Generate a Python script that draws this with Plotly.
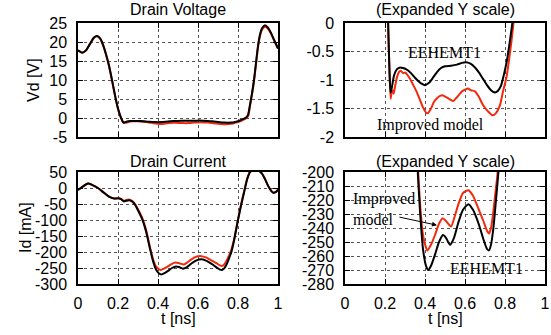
import plotly.graph_objects as go

# ---------------- data ----------------
t_vd_black = [0.00, 0.02, 0.04, 0.06, 0.08, 0.095, 0.11, 0.125, 0.14, 0.155, 0.17, 0.185, 0.20, 0.21, 0.218, 0.223,
              0.228, 0.235, 0.245, 0.26, 0.275, 0.29, 0.31, 0.33, 0.35, 0.37, 0.385, 0.40, 0.42, 0.44, 0.46, 0.48,
              0.50, 0.53, 0.56, 0.585, 0.605, 0.625, 0.65, 0.67, 0.69, 0.71, 0.73, 0.75, 0.765, 0.78, 0.795, 0.81,
              0.825, 0.84, 0.85, 0.86, 0.87, 0.88, 0.89, 0.90, 0.91, 0.92, 0.935, 0.95, 0.965, 0.98, 1.00]
vd_black = [17.8, 17.2, 17.8, 19.5, 21.2, 21.6, 21.0, 19.3, 16.8, 13.8, 10.0, 6.0, 2.5, 0.8, -0.3, -0.9,
            -1.22, -1.12, -0.92, -0.81, -0.78, -0.79, -0.82, -0.88, -0.96, -1.03, -1.07, -1.09, -1.05, -0.96, -0.86, -0.79,
            -0.76, -0.75, -0.73, -0.70, -0.69, -0.71, -0.78, -0.87, -0.98, -1.09, -1.18, -1.22, -1.19, -1.10, -0.90, -0.65,
            -0.30, 0.1, 0.8, 3.5, 6.5, 10.0, 14.5, 19.0, 22.0, 23.6, 24.4, 23.8, 22.4, 20.6, 18.3]

t_vd_red = [0.00, 0.02, 0.04, 0.06, 0.08, 0.095, 0.11, 0.125, 0.14, 0.155, 0.17, 0.185, 0.20, 0.21, 0.216, 0.222,
            0.228, 0.233, 0.238, 0.243, 0.25, 0.26, 0.27, 0.28, 0.29, 0.30, 0.31, 0.325, 0.34, 0.36, 0.375, 0.39,
            0.405, 0.415, 0.43, 0.445, 0.46, 0.475, 0.49, 0.505, 0.52, 0.54, 0.555, 0.57, 0.585, 0.60, 0.615, 0.63,
            0.65, 0.67, 0.69, 0.715, 0.738, 0.755, 0.775, 0.79, 0.808, 0.822, 0.833, 0.845, 0.852, 0.86, 0.87, 0.88,
            0.89, 0.90, 0.91, 0.92, 0.935, 0.95, 0.965, 0.98, 1.00]
vd_red = [17.8, 17.2, 17.8, 19.5, 21.1, 21.5, 20.9, 19.2, 16.7, 13.7, 9.9, 5.9, 2.4, 0.7, -0.1, -0.8,
          -1.33, -1.22, -1.18, -1.24, -1.12, -0.95, -0.86, -0.84, -0.88, -0.87, -0.90, -0.98, -1.08, -1.22, -1.35, -1.48,
          -1.57, -1.58, -1.50, -1.38, -1.32, -1.28, -1.27, -1.30, -1.33, -1.37, -1.32, -1.26, -1.20, -1.17, -1.15, -1.18,
          -1.20, -1.30, -1.44, -1.55, -1.62, -1.58, -1.44, -1.20, -0.94, -0.60, -0.30, 0.1, 0.7, 3.2, 6.2, 9.7,
          14.2, 18.6, 21.6, 23.2, 24.0, 23.5, 22.2, 20.5, 18.3]

t_id_black = [0.00, 0.02, 0.05, 0.07, 0.10, 0.13, 0.155, 0.18, 0.20, 0.215, 0.23, 0.24, 0.255, 0.27, 0.285, 0.30,
              0.32, 0.34, 0.36, 0.375, 0.39, 0.405, 0.417, 0.43, 0.45, 0.47, 0.49, 0.505, 0.525, 0.545, 0.567, 0.59,
              0.617, 0.64, 0.658, 0.675, 0.692, 0.71, 0.72, 0.73, 0.742, 0.755, 0.767, 0.78, 0.80, 0.815, 0.83, 0.845,
              0.86, 0.88, 0.90, 0.92, 0.935, 0.952, 0.965, 0.977, 0.99, 1.00]
id_black = [-6, 3, 14, 10, 0, -15, -27, -33, -32, -35, -42, -40, -38, -42, -52, -70,
            -96, -135, -190, -228, -255, -267, -270, -267, -259, -250, -245, -247, -252, -247, -236, -227,
            -223, -227, -233, -240, -248, -255, -256, -252, -240, -220, -200, -165, -100, -55, -15, 25,
            50, 55, 55, 45, 28, 5, -8, -15, -12, -5]

t_id_red = [0.00, 0.02, 0.05, 0.07, 0.10, 0.13, 0.155, 0.18, 0.20, 0.215, 0.23, 0.24, 0.255, 0.27, 0.285, 0.30,
            0.32, 0.34, 0.36, 0.375, 0.39, 0.405, 0.412, 0.43, 0.45, 0.47, 0.488, 0.505, 0.53, 0.548, 0.567, 0.59,
            0.617, 0.64, 0.658, 0.675, 0.692, 0.71, 0.72, 0.73, 0.742, 0.752, 0.762, 0.78, 0.80, 0.815, 0.83, 0.845,
            0.86, 0.88, 0.90, 0.92, 0.935, 0.952, 0.965, 0.977, 0.99, 1.00]
id_red = [-6, 3, 14, 10, 0, -15, -27, -33, -32, -34, -40, -38, -36, -40, -50, -66,
          -92, -130, -185, -222, -245, -254, -256, -252, -245, -237, -233, -235, -239, -232, -223, -215,
          -213, -217, -223, -229, -235, -242, -244, -240, -228, -215, -202, -162, -98, -52, -12, 28,
          50, 55, 55, 45, 28, 5, -8, -15, -12, -5]

x_ticks = [0, 0.2, 0.4, 0.6, 0.8, 1]
x_labels = ["0", "0.2", "0.4", "0.6", "0.8", "1"]
vd_ticks = [-5, 0, 5, 10, 15, 20, 25]
vd_labels = ["-5", "0", "5", "10", "15", "20", "25"]
vdz_ticks = [-2, -1.5, -1, -0.5, 0]
vdz_labels = ["-2", "-1.5", "-1", "-0.5", "0"]
id_ticks = [-300, -250, -200, -150, -100, -50, 0, 50]
id_labels = ["-300", "-250", "-200", "-150", "-100", "-50", "0", "50"]
idz_ticks = [-280, -270, -260, -250, -240, -230, -220, -210, -200]
idz_labels = ["-280", "-270", "-260", "-250", "-240", "-230", "-220", "-210", "-200"]

# ---------------- figure ----------------
W, H = 551, 335
RED = "#f2290f"
BLK = "#000000"
SANS = "Liberation Sans, Arial, sans-serif"
SERIF = "Liberation Serif, Times New Roman, serif"

fig = go.Figure()

panels = [
    ("x", "y", t_vd_black, vd_black, t_vd_red, vd_red),
    ("x2", "y2", t_vd_black, vd_black, t_vd_red, vd_red),
    ("x3", "y3", t_id_black, id_black, t_id_red, id_red),
    ("x4", "y4", t_id_black, id_black, t_id_red, id_red),
]
for xa, ya, tb, yb, tr, yr in panels:
    fig.add_trace(go.Scatter(x=tr, y=yr, mode="lines", line=dict(color=RED, width=2, shape="spline", smoothing=0.6),
                             xaxis=xa, yaxis=ya, showlegend=False, hoverinfo="skip"))
    fig.add_trace(go.Scatter(x=tb, y=yb, mode="lines", line=dict(color=BLK, width=2, shape="spline", smoothing=0.6),
                             xaxis=xa, yaxis=ya, showlegend=False, hoverinfo="skip"))

def px_x(p):
    return p / W

def px_y(p):
    return 1 - p / H

xl = [px_x(78), px_x(278)]
xr = [px_x(345), px_x(545)]
yt = [px_y(137), px_y(23)]
yb_ = [px_y(284), px_y(172)]

common = dict(showline=True, linecolor="black", linewidth=1.5, mirror="ticks", ticks="inside", ticklen=5,
              tickwidth=1, tickcolor="black", showgrid=True, gridcolor="#555555", griddash="dot", gridwidth=1,
              zeroline=False, tickfont=dict(family=SANS, size=16, color="black"), fixedrange=True,
              automargin=False)

def xaxis(domain, anchor, labels):
    d = dict(common)
    d.update(domain=domain, anchor=anchor, range=[0, 1], tickvals=x_ticks,
             ticktext=x_labels if labels else [""] * len(x_ticks), ticklabelstandoff=4)
    return d

def yaxis(domain, anchor, rng, vals, labels):
    d = dict(common)
    d.update(domain=domain, anchor=anchor, range=rng, tickvals=vals, ticktext=labels, ticklabelstandoff=6)
    return d

fig.update_layout(
    width=W, height=H, margin=dict(l=0, r=0, t=0, b=0, autoexpand=False),
    paper_bgcolor="white", plot_bgcolor="white",
    xaxis=xaxis(xl, "y", False), yaxis=yaxis(yt, "x", [-5, 25], vd_ticks, vd_labels),
    xaxis2=xaxis(xr, "y2", False), yaxis2=yaxis(yt, "x2", [-2, 0], vdz_ticks, vdz_labels),
    xaxis3=xaxis(xl, "y3", True), yaxis3=yaxis(yb_, "x3", [-300, 50], id_ticks, id_labels),
    xaxis4=xaxis(xr, "y4", True), yaxis4=yaxis(yb_, "x4", [-280, -200], idz_ticks, idz_labels),
)

def ann_px(text, x, y, size=16, family=SANS, angle=0, xanchor="center"):
    return dict(text=text, x=px_x(x), y=px_y(y), xref="paper", yref="paper", showarrow=False,
                font=dict(family=family, size=size, color="black"), textangle=angle,
                xanchor=xanchor, yanchor="middle")

annotations = [
    ann_px("Drain Voltage", 178, 10),
    ann_px("(Expanded Y scale)", 445, 10),
    ann_px("Drain Current", 178, 161),
    ann_px("(Expanded Y scale)", 445, 161),
    ann_px("Vd [V]", 33, 80, angle=-90),
    ann_px("Id [mA]", 25, 228, angle=-90),
    ann_px("t [ns]", 178, 318),
    ann_px("t [ns]", 445, 318),
    ann_px("EEHEMT1", 444, 52, family=SERIF),
    ann_px("Improved model", 430, 125, family=SERIF),
    ann_px("EEHEMT1", 486, 268, family=SERIF),
    dict(text="Improved<br>model", x=px_x(351), y=px_y(209), xref="paper", yref="paper", showarrow=False,
         font=dict(family=SERIF, size=16, color="black"), xanchor="left", yanchor="middle", align="left"),
    dict(text="", x=0.46, y=-238, xref="x4", yref="y4", ax=0.265, ay=-232, axref="x4", ayref="y4",
         showarrow=True, arrowhead=2, arrowsize=1, arrowwidth=1, arrowcolor="black", standoff=0),
]
fig.update_layout(annotations=annotations)

fig.write_html("out.html", config={"displayModeBar": False},
               post_script="document.body.style.margin='0px';document.body.style.overflow='hidden';")
